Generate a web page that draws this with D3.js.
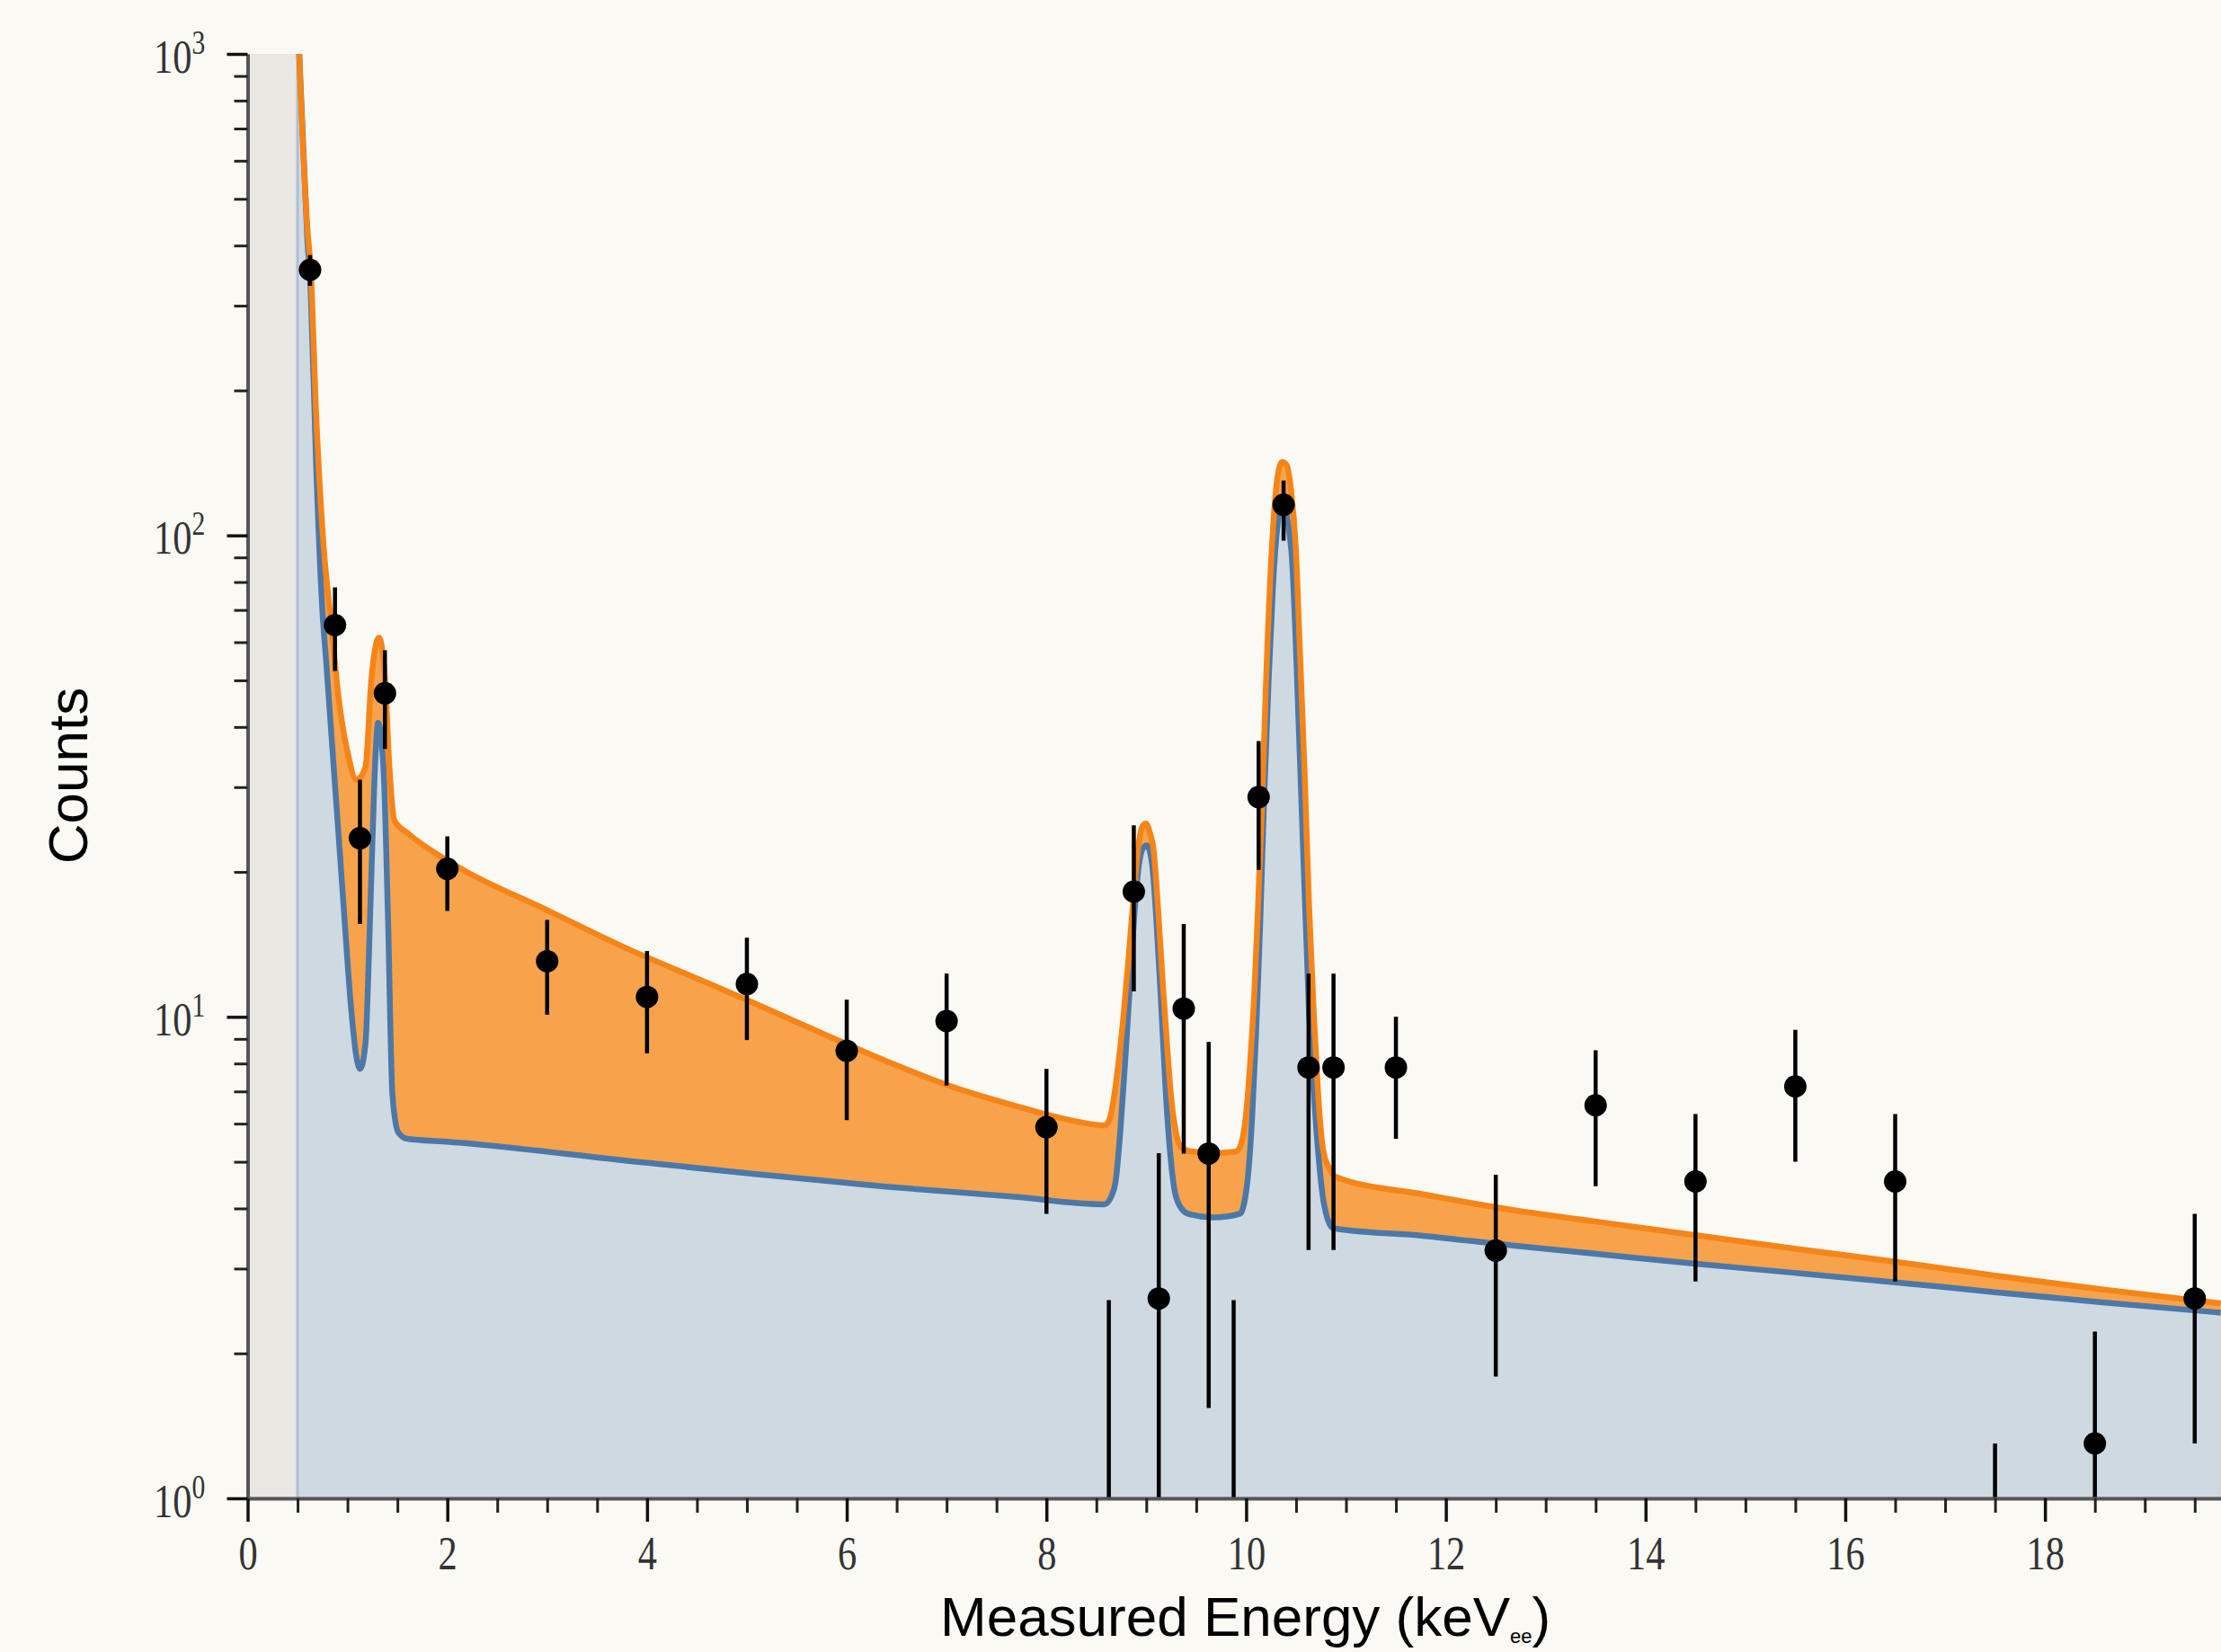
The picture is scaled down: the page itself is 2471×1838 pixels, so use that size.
<!DOCTYPE html>
<html>
<head>
<meta charset="utf-8">
<script src="https://cdn.jsdelivr.net/npm/d3@7"></script>
<style>
  body { margin: 0; background: #faf9f4; }
  svg { display: block; }
</style>
</head>
<body>
<svg id="chart"></svg>
<script>
var width = 2471;
var height = 1838;

// plot box in pixels
var padding = { t: 60, r: 0, b: 171, l: 275.5 };

/******************************************
  Data
******************************************/
var binCenters = [0.625, 0.875, 1.125, 1.375, 2, 3, 4, 5, 6, 7, 8,
    8.625, 8.875, 9.125, 9.375, 9.625, 9.875, 10.125, 10.375, 10.625, 10.875,
    11.5, 12.5, 13.5, 14.5, 15.5, 16.5, 17.5, 18.5, 19.5];
var counts = [356, 65.1, 23.5, 47, 20.3, 13.05, 11.0, 11.7, 8.5, 9.8, 5.9,
    null, 18.2, 2.6, 10.4, 5.2, null, 28.6, 115.8, 7.85, 7.85,
    7.85, 3.27, 6.55, 4.55, 7.17, 4.55, null, 1.3, 2.6];
var errLow = [330, 52.3, 15.6, 36, 16.6, 10.1, 8.4, 8.95, 6.1, 7.2, 3.9,
    0, 11.3, 0, 5.2, 1.54, 0, 20.2, 97.5, 3.28, 3.28,
    5.58, 1.79, 4.45, 2.82, 5.0, 2.82, 0, 0, 1.3];
var errHigh = [382, 78, 31.1, 57.7, 23.7, 15.9, 13.7, 14.6, 10.85, 12.3, 7.8,
    2.58, 25.0, 5.21, 15.6, 8.87, 2.58, 37.4, 130, 12.3, 12.3,
    10.0, 4.7, 8.52, 6.28, 9.4, 6.28, 1.3, 2.22, 3.9];

// total model (orange)
var totalEnergy = [0.50, 0.517, 0.596, 0.632, 0.686, 0.761, 0.836, 0.911, 1.0, 1.09,
    1.18, 1.24, 1.316, 1.376, 1.42, 1.47, 1.60, 2.02, 3.04, 3.82,
    4.464, 5.107, 5.75, 6.39, 7.035, 7.68, 8.32, 8.58, 8.621, 8.666,
    8.711, 8.771, 8.832, 8.877, 8.92, 8.958, 8.996, 9.041, 9.071, 9.116,
    9.161, 9.206, 9.251, 9.296, 9.341, 9.431, 9.67, 9.90, 9.95, 10.0,
    10.04, 10.08, 10.12, 10.16, 10.196, 10.27, 10.316, 10.36, 10.406, 10.45,
    10.497, 10.54, 10.587, 10.63, 10.677, 10.72, 10.77, 10.83, 10.90, 11.77,
    12.67, 13.57, 14.5, 15.49, 16.5, 17.5, 18.6, 19.76];
var totalCounts = [1250, 1000, 442, 356, 179, 95, 66, 46, 35.5, 31.1,
    33, 50.4, 61.3, 50.4, 33, 25.6, 24.1, 21.0, 16.5, 13.8,
    12.1, 10.6, 9.25, 8.1, 7.18, 6.54, 6.05, 5.95, 6.05, 6.6,
    7.7, 10.0, 14.0, 18.2, 22.5, 24.8, 25.2, 23.9, 22.4, 17.0,
    12.1, 8.86, 6.74, 5.77, 5.39, 5.26, 5.21, 5.25, 5.45, 6.3,
    8.0, 11.0, 17, 28, 47.5, 104, 133, 142, 139.8, 124,
    94.3, 56.4, 31.5, 17, 10.2, 6.97, 5.3, 4.86, 4.65, 4.28,
    3.97, 3.74, 3.52, 3.30, 3.10, 2.90, 2.71, 2.54];

// background model (blue)
var bkgEnergy = [0.50, 0.517, 0.596, 0.632, 0.686, 0.745, 0.79, 0.835, 0.88, 0.925,
    0.97, 1.03, 1.09, 1.127, 1.18, 1.226, 1.27, 1.307, 1.36, 1.406,
    1.45, 1.51, 1.60, 2.02, 3.82, 5.107, 6.39, 7.68, 8.58, 8.65,
    8.697, 8.742, 8.787, 8.832, 8.877, 8.92, 8.967, 9.005, 9.056, 9.101,
    9.146, 9.191, 9.236, 9.281, 9.341, 9.431, 9.67, 9.94, 9.98, 10.02,
    10.06, 10.10, 10.14, 10.18, 10.225, 10.27, 10.36, 10.45, 10.54, 10.63,
    10.71, 10.78, 10.87, 11.77, 12.67, 13.57, 14.5, 15.49, 16.5, 17.5,
    18.6, 19.76];
var bkgCounts = [1250, 1000, 420, 320, 140, 72, 53.5, 39.6, 29.3, 21.7,
    16, 10.8, 8.25, 7.8, 8.8, 16, 31.1, 40.8, 33, 16,
    6.9, 5.75, 5.58, 5.5, 5.02, 4.71, 4.44, 4.23, 4.08, 4.24,
    4.62, 5.87, 8.0, 11.3, 15.9, 20.2, 22.4, 22.7, 20.9, 15.9,
    10.9, 7.2, 5.3, 4.39, 4.03, 3.89, 3.83, 3.9, 4.1, 4.7,
    6.2, 9.3, 15.5, 28.4, 50, 79.4, 115.8, 94.3, 33.7, 10.2,
    5.59, 4.08, 3.64, 3.51, 3.35, 3.21, 3.07, 2.94, 2.81, 2.68,
    2.55, 2.43];

var thresholdEnergy = 0.5;
var xMajor = [0, 2, 4, 6, 8, 10, 12, 14, 16, 18];
var yMajor = [1, 10, 100, 1000];
var yExponents = ["0", "1", "2", "3"];

var points = binCenters.map(function (x, i) {
    return { x: x, y: counts[i], lo: errLow[i], hi: errHigh[i] };
});
var totalLine = totalEnergy.map(function (x, i) { return { x: x, y: totalCounts[i] }; });
var bkgLine = bkgEnergy.map(function (x, i) { return { x: x, y: bkgCounts[i] }; });

/******************************************
  Scales
******************************************/
var xScale = d3.scaleLinear().domain([0, 19.763]).range([padding.l, width - padding.r]);
var yScale = d3.scaleLog().domain([1, 1000]).range([height - padding.b, padding.t]);

var xMinor = d3.range(0.5, 19.6, 0.5).filter(d => d % 2 !== 0);
var yMinor = [];
[1, 10, 100].forEach(function (dec) {
    for (var k = 2; k <= 9; k++) yMinor.push(k * dec);
});

var svg = d3.select("#chart")
    .attr("width", width)
    .attr("height", height);

svg.append("rect")
    .attr("width", width)
    .attr("height", height)
    .attr("fill", "#faf9f4");

svg.append("defs")
    .append("clipPath")
    .attr("id", "plotClip")
    .append("rect")
    .attr("x", xScale(0))
    .attr("y", yScale(1000))
    .attr("width", xScale(19.763) - xScale(0))
    .attr("height", yScale(1) - yScale(1000));

var plot = svg.append("g").attr("clip-path", "url(#plotClip)");

// grey region below threshold
plot.append("rect")
    .attr("x", xScale(0))
    .attr("y", yScale(1000))
    .attr("width", xScale(thresholdEnergy) - xScale(0))
    .attr("height", yScale(1) - yScale(1000))
    .attr("fill", "#e8e7e2");

/******************************************
  Model areas and lines
******************************************/
var area = d3.area()
    .x(d => xScale(d.x))
    .y0(yScale(1))
    .y1(d => yScale(d.y))
    .curve(d3.curveMonotoneX);

var line = d3.line()
    .x(d => xScale(d.x))
    .y(d => yScale(d.y))
    .curve(d3.curveMonotoneX);

plot.append("path")
    .datum(totalLine)
    .attr("d", area)
    .attr("fill", "#f7a34c");

plot.append("path")
    .datum(bkgLine)
    .attr("d", area)
    .attr("fill", "#cfd9e2");

plot.append("line")
    .attr("x1", xScale(thresholdEnergy))
    .attr("x2", xScale(thresholdEnergy))
    .attr("y1", yScale(1000))
    .attr("y2", yScale(1))
    .attr("stroke", "#aebfd3")
    .attr("stroke-width", 3);

plot.append("path")
    .datum(bkgLine)
    .attr("d", line)
    .attr("fill", "none")
    .attr("stroke", "#4c78a8")
    .attr("stroke-width", 6.5)
    .attr("stroke-linejoin", "round");

plot.append("path")
    .datum(totalLine)
    .attr("d", line)
    .attr("fill", "none")
    .attr("stroke", "#f58518")
    .attr("stroke-width", 6.5)
    .attr("stroke-linejoin", "round");

/******************************************
  Data points with error bars
******************************************/
plot.selectAll(".errbar")
    .data(points)
    .enter()
    .append("line")
    .attr("class", "errbar")
    .attr("x1", d => xScale(d.x))
    .attr("x2", d => xScale(d.x))
    .attr("y1", d => yScale(Math.max(d.lo, 0.5)))
    .attr("y2", d => yScale(d.hi))
    .attr("stroke", "black")
    .attr("stroke-width", 4.5);

plot.selectAll(".marker")
    .data(points.filter(d => d.y !== null))
    .enter()
    .append("circle")
    .attr("class", "marker")
    .attr("cx", d => xScale(d.x))
    .attr("cy", d => yScale(d.y))
    .attr("r", 12.5)
    .attr("fill", "black");

/******************************************
  Axes
******************************************/
var xAxis = svg.append("g")
    .attr("transform", "translate(0," + yScale(1) + ")")
    .call(d3.axisBottom(xScale).tickValues(xMajor).tickSize(26).tickSizeOuter(0).tickFormat(d3.format("d")));
xAxis.select(".domain").attr("stroke", "#555").attr("stroke-width", 4);
xAxis.selectAll(".tick line").attr("stroke", "#111").attr("stroke-width", 3.5);
xAxis.selectAll(".tick text")
    .attr("y", 79)
    .attr("dy", 0)
    .attr("transform", "scale(0.8,1)")
    .style("font-family", "'Liberation Serif', serif")
    .style("font-size", "53px")
    .attr("fill", "#333");

var xMinorAxis = svg.append("g")
    .attr("transform", "translate(0," + yScale(1) + ")")
    .call(d3.axisBottom(xScale).tickValues(xMinor).tickSize(16).tickSizeOuter(0).tickFormat(""));
xMinorAxis.select(".domain").remove();
xMinorAxis.selectAll(".tick line").attr("stroke", "#222").attr("stroke-width", 3);

var yAxis = svg.append("g")
    .attr("transform", "translate(" + xScale(0) + ",0)")
    .call(d3.axisLeft(yScale).tickValues(yMajor).tickSize(23).tickSizeOuter(0).tickFormat(""));
yAxis.select(".domain").attr("stroke", "#555").attr("stroke-width", 4);
yAxis.selectAll(".tick line").attr("stroke", "#111").attr("stroke-width", 3.5);

var yLabel = yAxis.selectAll(".tick text")
    .text(null)
    .attr("x", -59)
    .attr("y", 20)
    .attr("dy", 0)
    .attr("transform", "scale(0.8,1)")
    .attr("text-anchor", "end")
    .style("font-family", "'Liberation Serif', serif")
    .attr("fill", "#333");
yLabel.append("tspan")
    .style("font-size", "53px")
    .text("10");
yLabel.append("tspan")
    .attr("dy", -21)
    .style("font-size", "37px")
    .text((d, i) => yExponents[i]);

var yMinorAxis = svg.append("g")
    .attr("transform", "translate(" + xScale(0) + ",0)")
    .call(d3.axisLeft(yScale).tickValues(yMinor).tickSize(15).tickSizeOuter(0).tickFormat(""));
yMinorAxis.select(".domain").remove();
yMinorAxis.selectAll(".tick line").attr("stroke", "#222").attr("stroke-width", 3);

/******************************************
  Axis titles
******************************************/
var xTitle = svg.append("text")
    .attr("x", 1046)
    .attr("y", 1820)
    .style("font-family", "'Liberation Sans', Arial, sans-serif")
    .style("font-size", "62px")
    .attr("fill", "black");
xTitle.append("tspan").text("Measured Energy (keV");
xTitle.append("tspan").attr("dy", 8).style("font-size", "22px").text("ee");
xTitle.append("tspan").attr("dy", -8).text(")");

svg.append("text")
    .attr("transform", "translate(97,863) rotate(-90)")
    .attr("text-anchor", "middle")
    .style("font-family", "'Liberation Sans', Arial, sans-serif")
    .style("font-size", "62px")
    .attr("fill", "black")
    .text("Counts");
</script>
</body>
</html>
